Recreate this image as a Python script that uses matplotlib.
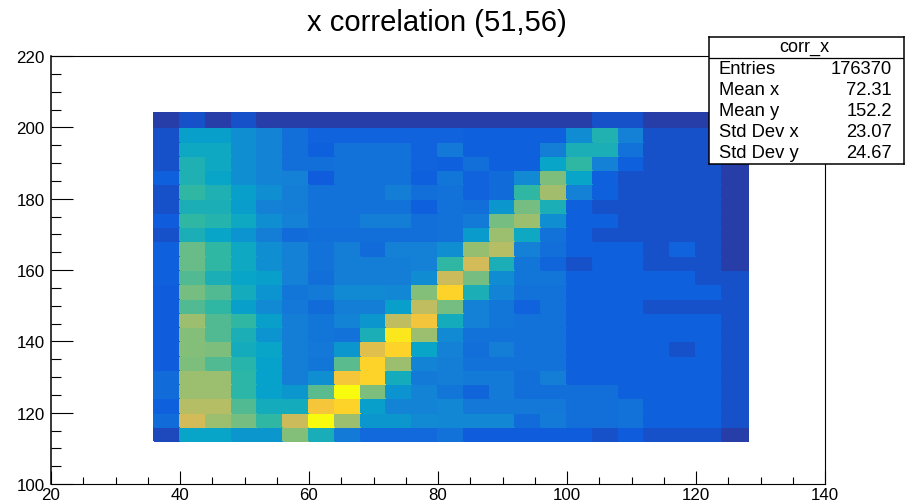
import matplotlib.pyplot as plt
import numpy as np
from matplotlib.colors import LinearSegmentedColormap
from matplotlib.ticker import MultipleLocator

plt.rcParams["font.family"] = ["Liberation Sans", "DejaVu Sans"]

# ROOT kBird palette
bird_colors = ["#352A87", "#0F5CDD", "#1481D6", "#06A4CA", "#2EB7A4",
               "#87BF77", "#D1BB59", "#FEC832", "#F9FB0E"]

x_edges = np.arange(36, 132, 4)
y_edges = np.arange(112, 208, 4)

# relative bin content, rows run from the bottom (y=112) to the top (y=200)
row_112 = [8, 38, 38, 33, 33, 62, 43, 23, 17, 17, 17, 20, 13, 13, 13, 13, 13, 10, 13, 10, 10, 10, 5]
row_116 = [18, 75, 66, 60, 50, 74, 100, 66, 33, 33, 28, 27, 27, 27, 18, 23, 19, 19, 20, 14, 14, 14, 10]
row_120 = [14, 70, 70, 55, 42, 42, 85, 90, 36, 26, 26, 27, 22, 22, 22, 22, 19, 19, 20, 14, 14, 14, 10]
row_124 = [18, 66, 66, 49, 37, 33, 56, 100, 61, 32, 26, 21, 16, 23, 19, 19, 19, 19, 14, 14, 14, 14, 10]
row_128 = [18, 66, 66, 49, 37, 24, 30, 85, 90, 42, 23, 24, 23, 23, 19, 24, 14, 14, 14, 14, 14, 14, 10]
row_132 = [13, 61, 55, 48, 37, 24, 21, 56, 90, 66, 26, 24, 20, 20, 20, 20, 14, 14, 14, 14, 14, 14, 10]
row_136 = [13, 62, 61, 42, 38, 24, 22, 33, 79, 90, 38, 25, 19, 24, 20, 20, 14, 14, 14, 14, 10, 14, 10]
row_140 = [13, 62, 55, 44, 32, 24, 21, 20, 44, 95, 66, 28, 20, 20, 20, 20, 14, 14, 14, 14, 14, 14, 10]
row_144 = [13, 66, 55, 50, 36, 24, 21, 26, 33, 72, 84, 42, 25, 21, 20, 20, 14, 14, 14, 14, 14, 14, 10]
row_148 = [13, 55, 50, 36, 28, 22, 18, 24, 24, 36, 72, 60, 25, 21, 15, 20, 14, 14, 14, 10, 10, 10, 10]
row_152 = [13, 60, 55, 42, 32, 21, 23, 28, 28, 27, 62, 90, 44, 26, 20, 20, 14, 14, 14, 14, 14, 14, 10]
row_156 = [14, 55, 44, 38, 36, 25, 19, 24, 24, 24, 29, 74, 60, 29, 21, 21, 14, 14, 14, 14, 14, 10, 10]
row_160 = [14, 58, 50, 40, 30, 25, 20, 24, 24, 24, 25, 50, 75, 44, 21, 16, 10, 14, 14, 10, 10, 10, 5]
row_164 = [14, 58, 50, 40, 30, 25, 20, 24, 18, 25, 25, 30, 65, 70, 25, 19, 14, 14, 14, 10, 15, 10, 5]
row_168 = [10, 44, 38, 32, 24, 18, 19, 19, 19, 19, 19, 20, 34, 66, 40, 20, 14, 10, 10, 10, 10, 10, 5]
row_172 = [13, 50, 47, 40, 30, 25, 20, 20, 24, 24, 19, 20, 23, 60, 66, 30, 14, 14, 10, 10, 10, 10, 5]
row_176 = [10, 44, 44, 35, 25, 24, 20, 20, 20, 20, 14, 20, 19, 33, 60, 44, 14, 10, 10, 10, 10, 10, 5]
row_180 = [10, 50, 45, 36, 30, 24, 20, 20, 20, 24, 19, 20, 15, 18, 50, 67, 25, 14, 10, 10, 10, 10, 5]
row_184 = [14, 45, 38, 30, 26, 25, 13, 20, 20, 20, 14, 21, 15, 18, 28, 61, 38, 14, 10, 10, 10, 10, 5]
row_188 = [10, 45, 40, 30, 26, 19, 19, 20, 20, 20, 15, 14, 19, 14, 14, 38, 50, 25, 14, 10, 10, 10, 5]
row_192 = [10, 40, 40, 30, 26, 19, 14, 20, 20, 20, 15, 22, 14, 14, 14, 24, 44, 44, 20, 10, 10, 10, 5]
row_196 = [10, 36, 36, 30, 26, 19, 15, 15, 15, 15, 15, 15, 14, 14, 14, 14, 29, 46, 25, 10, 10, 10, 5]
row_200 = [5, 10, 5, 10, 5, 5, 5, 5, 5, 5, 5, 5, 5, 5, 5, 5, 5, 10, 10, 5, 5, 5, 5]

stats_names = ["Entries", "Mean x", "Mean y", "Std Dev x", "Std Dev y"]
stats_values = ["176370", "72.31", "152.2", "23.07", "24.67"]


def main():
    counts = np.array([row_112, row_116, row_120, row_124, row_128, row_132,
                       row_136, row_140, row_144, row_148, row_152, row_156,
                       row_160, row_164, row_168, row_172, row_176, row_180,
                       row_184, row_188, row_192, row_196, row_200])
    bird = LinearSegmentedColormap.from_list("bird", bird_colors)

    fig = plt.figure(figsize=(9.08, 5.02), dpi=100)
    ax = fig.add_axes([51 / 908, 1 - 485 / 502, 774 / 908, 428 / 502])

    ax.pcolormesh(x_edges, y_edges, counts, cmap=bird, vmin=0, vmax=100,
                  edgecolors="face", linewidth=0.1)

    ax.set_xlim(20, 140)
    ax.set_ylim(100, 220)
    ax.xaxis.set_major_locator(MultipleLocator(20))
    ax.xaxis.set_minor_locator(MultipleLocator(5))
    ax.yaxis.set_major_locator(MultipleLocator(20))
    ax.yaxis.set_minor_locator(MultipleLocator(5))
    ax.tick_params(axis="x", which="major", direction="in", length=9.5, width=0.8,
                   labelsize=12.2, pad=2.5)
    ax.tick_params(axis="x", which="minor", direction="in", length=4.7, width=0.8)
    ax.tick_params(axis="y", which="major", direction="in", length=16, width=0.8,
                   labelsize=12.2, pad=4.5)
    ax.tick_params(axis="y", which="minor", direction="in", length=7.5, width=0.8)
    for spine in ax.spines.values():
        spine.set_linewidth(0.8)
    ax.spines["left"].set_linewidth(1.1)

    fig.text(437 / 908, 1 - 23 / 502, "x correlation (51,56)", fontsize=21,
             ha="center", va="center")

    # stats box, sits on top of the frame corner
    box = fig.add_axes([709 / 908, 1 - 165 / 502, 195 / 908, 127 / 502], zorder=5)
    box.set_xlim(709, 904)
    box.set_ylim(165, 38)
    box.set_xticks([])
    box.set_yticks([])
    for spine in box.spines.values():
        spine.set_linewidth(1.1)
    box.axhline(59, color="black", linewidth=0.9)
    box.text(804, 47.5, "corr_x", fontsize=13, ha="center", va="center")
    for i, (name, value) in enumerate(zip(stats_names, stats_values)):
        y = 69.5 + i * 21.1
        box.text(719, y, name, fontsize=13.2, ha="left", va="center")
        box.text(892, y, value, fontsize=13.2, ha="right", va="center")

    fig.savefig("out.png", dpi=100)


if __name__ == "__main__":
    main()
